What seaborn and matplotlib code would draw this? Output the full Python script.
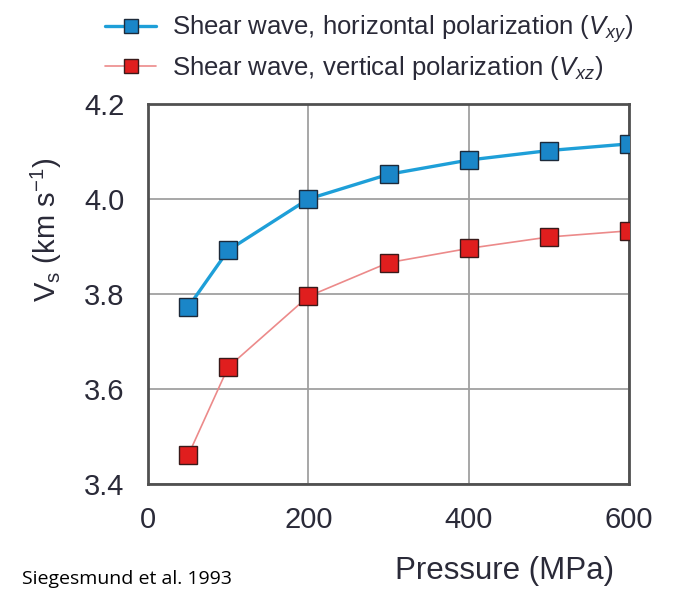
import matplotlib
matplotlib.use("Agg")
import matplotlib.pyplot as plt
import seaborn as sns
import pandas as pd
from matplotlib.ticker import MultipleLocator

# ---- data ----
pressure = [50, 100, 200, 300, 400, 500, 600]
vs_xy = [3.772, 3.892, 4.000, 4.052, 4.082, 4.102, 4.116]
vs_xz = [3.460, 3.646, 3.795, 3.866, 3.896, 3.920, 3.933]
label_xy = r"Shear wave, horizontal polarization ($V_{xy}$)"
label_xz = r"Shear wave, vertical polarization ($V_{xz}$)"
x_ticks = [0, 200, 400, 600]
y_ticks = [3.4, 3.6, 3.8, 4.0, 4.2]

sns.set_style("white")
FAM = ["Liberation Sans", "DejaVu Sans"]
plt.rcParams["font.family"] = FAM
plt.rcParams["mathtext.fontset"] = "custom"
plt.rcParams["mathtext.rm"] = "Liberation Sans"
plt.rcParams["mathtext.it"] = "Liberation Sans:italic"
plt.rcParams["mathtext.bf"] = "Liberation Sans:bold"

df_xy = pd.DataFrame({"P": pressure, "V": vs_xy})
df_xz = pd.DataFrame({"P": pressure, "V": vs_xz})

fig = plt.figure(figsize=(6.77, 5.90), dpi=100)
ax = fig.add_axes([148/677, 1-484/590, (629-148)/677, (484-104)/590])

sns.lineplot(data=df_xy, x="P", y="V", ax=ax, color="#1e9fd8", linewidth=2.4,
             marker="s", markersize=12.5, markerfacecolor="#1a86c8",
             markeredgecolor="#1d2a3a", markeredgewidth=1.0, label=label_xy, zorder=3)
sns.lineplot(data=df_xz, x="P", y="V", ax=ax, color="#ec8a8a", linewidth=1.2,
             marker="s", markersize=12.5, markerfacecolor="#e01e1e",
             markeredgecolor="#3a1a1a", markeredgewidth=1.0, label=label_xz, zorder=3)

ax.set_xlim(0, 600)
ax.set_ylim(3.4, 4.2)
ax.set_xticks(x_ticks)
ax.set_yticks(y_ticks)
ax.set_yticklabels([f"{v:.1f}" for v in y_ticks])
ax.xaxis.set_minor_locator(MultipleLocator(100))
ax.yaxis.set_minor_locator(MultipleLocator(0.1))
ax.grid(True, which="major", color="#a0a0a0", linewidth=1.3)
ax.set_axisbelow(True)
for s in ax.spines.values():
    s.set_color("#505050")
    s.set_linewidth(2.0)
ax.tick_params(axis="both", which="major", direction="inout", length=12, width=1.5,
               colors="#505050", labelcolor="#2a2a38", labelsize=21)
ax.tick_params(axis="y", which="major", pad=11)
ax.tick_params(axis="x", which="major", pad=10)
ax.tick_params(axis="both", which="minor", direction="out", length=7, width=1.5,
               colors="#505050")
ax.tick_params(top=False, right=False, which="both")

ax.set_xlabel("Pressure (MPa)", fontsize=22.5, color="#2a2a38")
ax.xaxis.set_label_coords((505-148)/481, -0.19)
ax.set_ylabel(r"$\mathrm{V_s}$ (km s$^{-1}$)", fontsize=21, color="#2a2a38")
ax.yaxis.set_label_coords(-0.175, 0.668)

leg = ax.legend(loc="lower left", bbox_to_anchor=(-0.1, 1.045), frameon=False,
                fontsize=18.5, handlelength=2.0, handletextpad=0.6,
                labelspacing=0.35, borderaxespad=0.1, borderpad=0.1,
                markerscale=0.85)
for t in leg.get_texts():
    t.set_color("#2a2a38")

fig.text(22/677, 0.004, "Siegesmund et al. 1993", fontsize=14, va="bottom",
         family=["Open Sans", "DejaVu Sans"], color="black")

fig.savefig("out.png", dpi=100)
